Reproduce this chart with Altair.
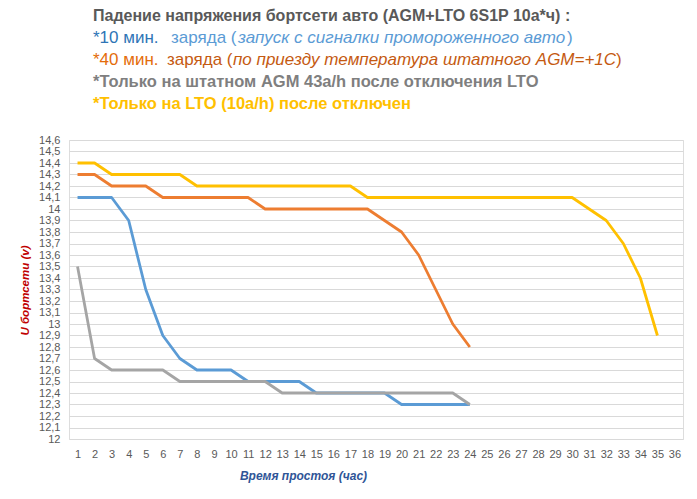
import altair as alt
import pandas as pd

# ---- data ----
hours_24 = list(range(1, 25))
hours_35 = list(range(1, 36))

blue_10min = [14.1, 14.1, 14.1, 13.9, 13.3, 12.9, 12.7, 12.6, 12.6, 12.6, 12.5, 12.5,
              12.5, 12.5, 12.4, 12.4, 12.4, 12.4, 12.4, 12.3, 12.3, 12.3, 12.3, 12.3]
orange_40min = [14.3, 14.3, 14.2, 14.2, 14.2, 14.1, 14.1, 14.1, 14.1, 14.1, 14.1, 14.0,
                14.0, 14.0, 14.0, 14.0, 14.0, 14.0, 13.9, 13.8, 13.6, 13.3, 13.0, 12.8]
gray_agm = [13.5, 12.7, 12.6, 12.6, 12.6, 12.6, 12.5, 12.5, 12.5, 12.5, 12.5, 12.5,
            12.4, 12.4, 12.4, 12.4, 12.4, 12.4, 12.4, 12.4, 12.4, 12.4, 12.4, 12.3]
yellow_lto = [14.4, 14.4, 14.3, 14.3, 14.3, 14.3, 14.3, 14.2, 14.2, 14.2, 14.2, 14.2,
              14.2, 14.2, 14.2, 14.2, 14.2, 14.1, 14.1, 14.1, 14.1, 14.1, 14.1, 14.1,
              14.1, 14.1, 14.1, 14.1, 14.1, 14.1, 14.0, 13.9, 13.7, 13.4, 12.9]

series_names = ["10 мин", "40 мин", "AGM", "LTO"]
series_colors = ["#5B9BD5", "#ED7D31", "#A5A5A5", "#FFC000"]

x_ticks = list(range(1, 37))
y_ticks = [12.0, 12.1, 12.2, 12.3, 12.4, 12.5, 12.6, 12.7, 12.8, 12.9, 13.0, 13.1, 13.2,
           13.3, 13.4, 13.5, 13.6, 13.7, 13.8, 13.9, 14.0, 14.1, 14.2, 14.3, 14.4, 14.5, 14.6]

rows = []
for name, xs, ys in [(series_names[0], hours_24, blue_10min),
                     (series_names[1], hours_24, orange_40min),
                     (series_names[2], hours_24, gray_agm),
                     (series_names[3], hours_35, yellow_lto)]:
    for x, y in zip(xs, ys):
        rows.append({"series": name, "hour": x, "volt": y})
df = pd.DataFrame(rows)

# ---- layout ----
PLOT_L, PLOT_T = 69, 140   # page position of plot area origin in reference
W, H = 614, 299
TITLE_FONT = "Liberation Sans, sans-serif"
AXIS_FONT = "Liberation Sans, sans-serif"

lines = alt.Chart(df).mark_line(strokeWidth=2.8, strokeJoin="round").encode(
    x=alt.X("hour:Q",
            scale=alt.Scale(domain=[0.5, 36.5], nice=False, zero=False),
            axis=alt.Axis(values=x_ticks, grid=False, ticks=False, domain=False,
                          labelPadding=9, labelFontSize=11, labelColor="#595959",
                          labelFont=AXIS_FONT, labelFlush=False,
                          title="Время  простоя  (час)", titleFont=AXIS_FONT,
                          titleFontSize=12, titleFontStyle="italic", titleFontWeight="bold",
                          titleColor="#2F5597", titleX=234, titleY=36,
                          titleAlign="center", titleBaseline="middle")),
    y=alt.Y("volt:Q",
            scale=alt.Scale(domain=[12, 14.6], nice=False, zero=False),
            axis=alt.Axis(values=y_ticks, grid=True, gridColor="#D9D9D9", gridWidth=1,
                          ticks=False, domain=False, labelPadding=9, labelFontSize=11,
                          labelColor="#595959", labelFont=AXIS_FONT,
                          labelExpr="replace(format(datum.value, '.1~f'), '.', ',')",
                          title="U  бортсети  (v)", titleFont=AXIS_FONT, titleFontSize=11.5,
                          titleFontStyle="italic", titleFontWeight="bold",
                          titleColor="#C00000", titleX=-44, titleY=150, titleAngle=270,
                          titleAlign="center", titleBaseline="middle")),
    color=alt.Color("series:N", scale=alt.Scale(domain=series_names, range=series_colors),
                    legend=None),
)


def label(txt, x, y, color, weight="normal", style="normal", size=17):
    return alt.Chart(alt.Data(values=[{"k": 0}])).mark_text(
        text=txt, align="left", baseline="middle", font=TITLE_FONT, fontSize=size,
        fontWeight=weight, fontStyle=style, color=color,
    ).encode(x=alt.value(x - PLOT_L), y=alt.value(y - PLOT_T))


texts = [
    label("Падение напряжения бортсети авто (AGM+LTO 6S1P 10а*ч) :", 93, 15.5, "#595959",
          weight="bold", size=16),
    label("*10 мин.", 93, 37.5, "#2E75B6"),
    label("заряда (", 171, 37.5, "#5B9BD5"),
    label("запуск с сигналки промороженного авто", 238, 37.5, "#5B9BD5", style="italic"),
    label(")", 567, 37.5, "#5B9BD5"),
    label("*40 мин.", 93, 59.5, "#E46C0A"),
    label("заряда (", 167, 59.5, "#C55A11"),
    label("по приезду температура штатного AGM=+1С", 233, 59.5, "#C55A11", style="italic"),
    label(")", 616, 59.5, "#C55A11"),
    label("*Только  на  штатном AGM 43a/h после отключения LTO", 93, 82, "#7F7F7F",
          weight="bold", size=16.5),
    label("*Только  на  LTO (10a/h) после отключен", 93, 104, "#FFC000",
          weight="bold", size=16.5),
]

chart = alt.layer(lines, *texts).properties(
    width=W, height=H,
    autosize=alt.AutoSizeParams(type="none"),
    padding={"left": PLOT_L - 8, "top": PLOT_T - 8, "right": 6, "bottom": 52},
).configure_view(stroke=None).configure(background="white")

chart.save("out.html", embed_options={"renderer": "svg", "actions": False})
